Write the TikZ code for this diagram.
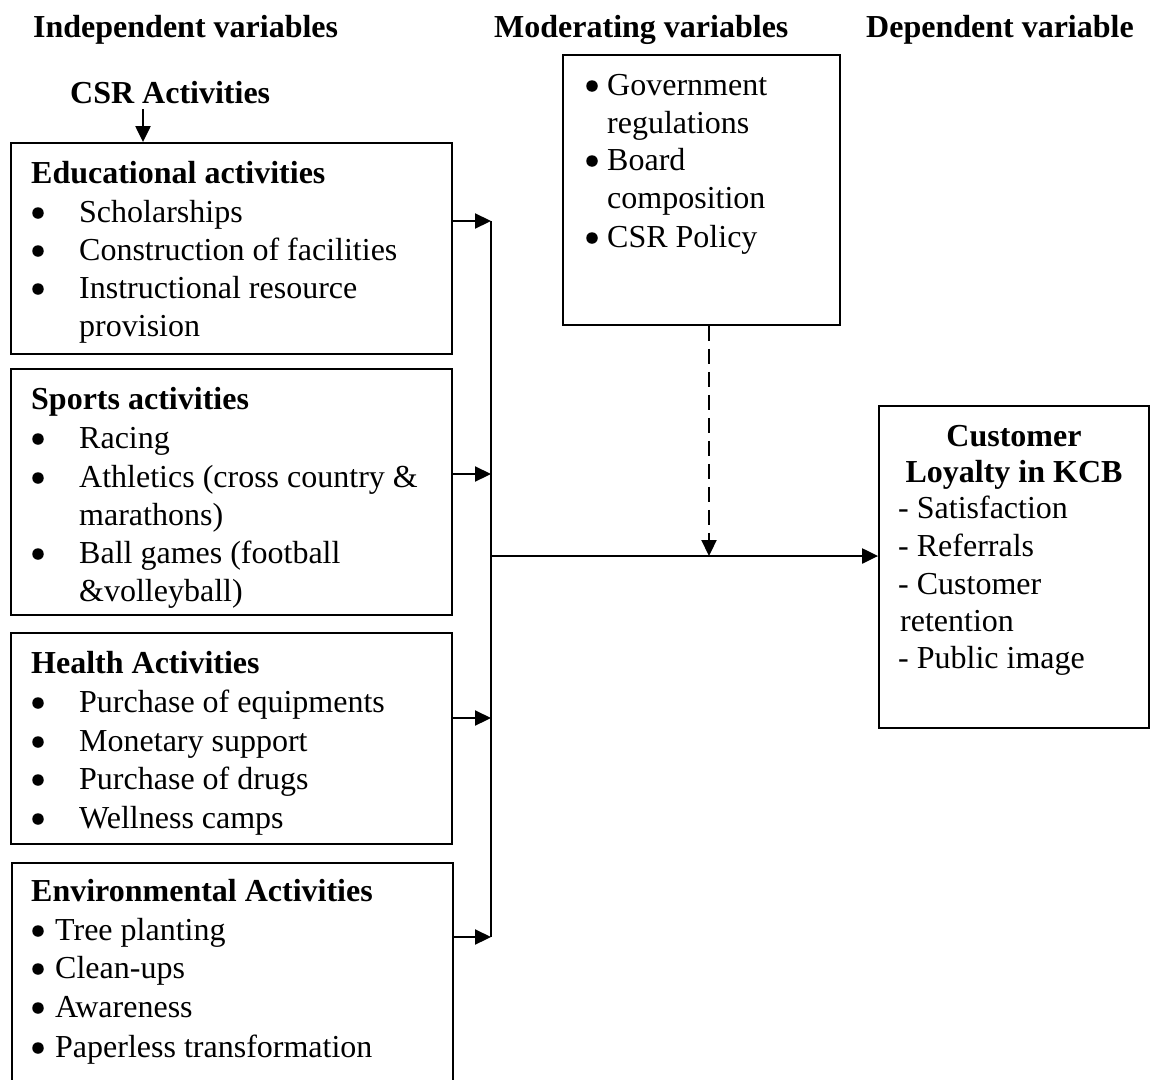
\documentclass[tikz,border=0pt]{standalone}
\usepackage{fontspec}
\setmainfont{Liberation Serif}
\usetikzlibrary{arrows.meta}
\begin{document}
\begin{tikzpicture}[x=1pt,y=-1pt,
  box/.style={draw, line width=1.8pt, inner sep=0pt, rectangle},
  txt/.style={inner sep=0pt, font=\fontsize{32}{38.5}\selectfont, anchor=base west},
  btxt/.style={txt, font=\fontsize{32}{38.5}\selectfont\bfseries},
  ctxt/.style={inner sep=0pt, font=\fontsize{32}{38.5}\selectfont\bfseries, anchor=base},
  dot/.style={circle, fill, draw=none, inner sep=0pt, minimum size=11.5pt},
  arr/.style={line width=2.2pt, -{Triangle[length=16pt,width=15pt]}},
  bus/.style={line width=2.2pt}
]
\useasboundingbox (0,0) rectangle (1151,1079);
\clip (0,0) rectangle (1151,1079);

% headers
\node[btxt] (hind) at (33,37) {Independent variables};
\node[btxt] (hmod) at (494,37) {Moderating variables};
\node[btxt] (hdep) at (866,37) {Dependent variable};

% CSR label
\node[btxt] (csr) at (70,103) {CSR Activities};

% boxes
\node[box, minimum width=441pt, minimum height=211pt] (edu) at (231.5,248.5) {};
\node[box, minimum width=441pt, minimum height=246pt] (spo) at (231.5,492) {};
\node[box, minimum width=441pt, minimum height=211pt] (hea) at (231.5,738.5) {};
\node[box, minimum width=441pt, minimum height=240pt, anchor=north west] (env) at (11,862) {};
\node[box, minimum width=277pt, minimum height=270pt] (mod) at (701.5,190) {};
\node[box, minimum width=270pt, minimum height=322pt] (dep) at (1014,567) {};

% educational
\node[btxt] (eh) at (31,183) {Educational activities};
\node[dot] (eb1) at (38,213) {}; \node[txt] (e1) at (79,222) {Scholarships};
\node[dot] (eb2) at (38,251) {}; \node[txt] (e2) at (79,260) {Construction of facilities};
\node[dot] (eb3) at (38,289) {}; \node[txt] (e3) at (79,298) {Instructional resource};
\node[txt] (e4) at (79,336) {provision};

% sports
\node[btxt] (sh) at (31,409) {Sports activities};
\node[dot] (sb1) at (38,439) {}; \node[txt] (s1) at (79,448) {Racing};
\node[dot] (sb2) at (38,478) {}; \node[txt] (s2) at (79,487) {Athletics (cross country \&};
\node[txt] (s3) at (79,525) {marathons)};
\node[dot] (sb3) at (38,554) {}; \node[txt] (s4) at (79,563) {Ball games (football};
\node[txt] (s5) at (79,601) {\&volleyball)};

% health
\node[btxt] (hh) at (31,673) {Health Activities};
\node[dot] (hb1) at (38,703) {}; \node[txt] (h1) at (79,712) {Purchase of equipments};
\node[dot] (hb2) at (38,742) {}; \node[txt] (h2) at (79,751) {Monetary support};
\node[dot] (hb3) at (38,780) {}; \node[txt] (h3) at (79,789) {Purchase of drugs};
\node[dot] (hb4) at (38,819) {}; \node[txt] (h4) at (79,828) {Wellness camps};

% environmental
\node[btxt] (nh) at (31,901) {Environmental Activities};
\node[dot] (nb1) at (38,931) {}; \node[txt] (n1) at (55,940) {Tree planting};
\node[dot] (nb2) at (38,969) {}; \node[txt] (n2) at (55,978) {Clean-ups};
\node[dot] (nb3) at (38,1008) {}; \node[txt] (n3) at (55,1017) {Awareness};
\node[dot] (nb4) at (38,1048) {}; \node[txt] (n4) at (55,1057) {Paperless transformation};

% moderating
\node[dot] (mb1) at (592,86) {}; \node[txt] (m1) at (607,95) {Government};
\node[txt] (m2) at (607,133) {regulations};
\node[dot] (mb2) at (592,161) {}; \node[txt] (m3) at (607,170) {Board};
\node[txt] (m4) at (607,208) {composition};
\node[dot] (mb3) at (592,238) {}; \node[txt] (m5) at (607,247) {CSR Policy};

% dependent
\node[ctxt] (dh1) at (1014,446) {Customer};
\node[ctxt] (dh2) at (1014,482) {Loyalty in KCB};
\node[txt] (d1) at (898,518) {- Satisfaction};
\node[txt] (d2) at (898,556) {- Referrals};
\node[txt] (d3) at (898,594) {- Customer};
\node[txt] (d4) at (900,631) {retention};
\node[txt] (d5) at (898,668) {- Public image};

% connectors
\coordinate (ct) at (143,109);
\draw[arr] (ct) -- (edu.north -| ct);

\coordinate (j1) at (491,221);
\coordinate (j2) at (491,474);
\coordinate (j3) at (491,718);
\coordinate (j4) at (491,937);
\coordinate (jm) at (491,556);
\coordinate (dm) at (709,556);

\draw[bus] (j1) -- (j4);
\draw[arr] (edu.east |- j1) -- (j1);
\draw[arr] (spo.east |- j2) -- (j2);
\draw[arr] (hea.east |- j3) -- (j3);
\draw[arr] (env.east |- j4) -- (j4);
\draw[arr] (jm) -- (dep.west |- jm);
\draw[arr, dash pattern=on 15pt off 8pt] (mod.south -| dm) -- (dm);
\end{tikzpicture}
\end{document}
